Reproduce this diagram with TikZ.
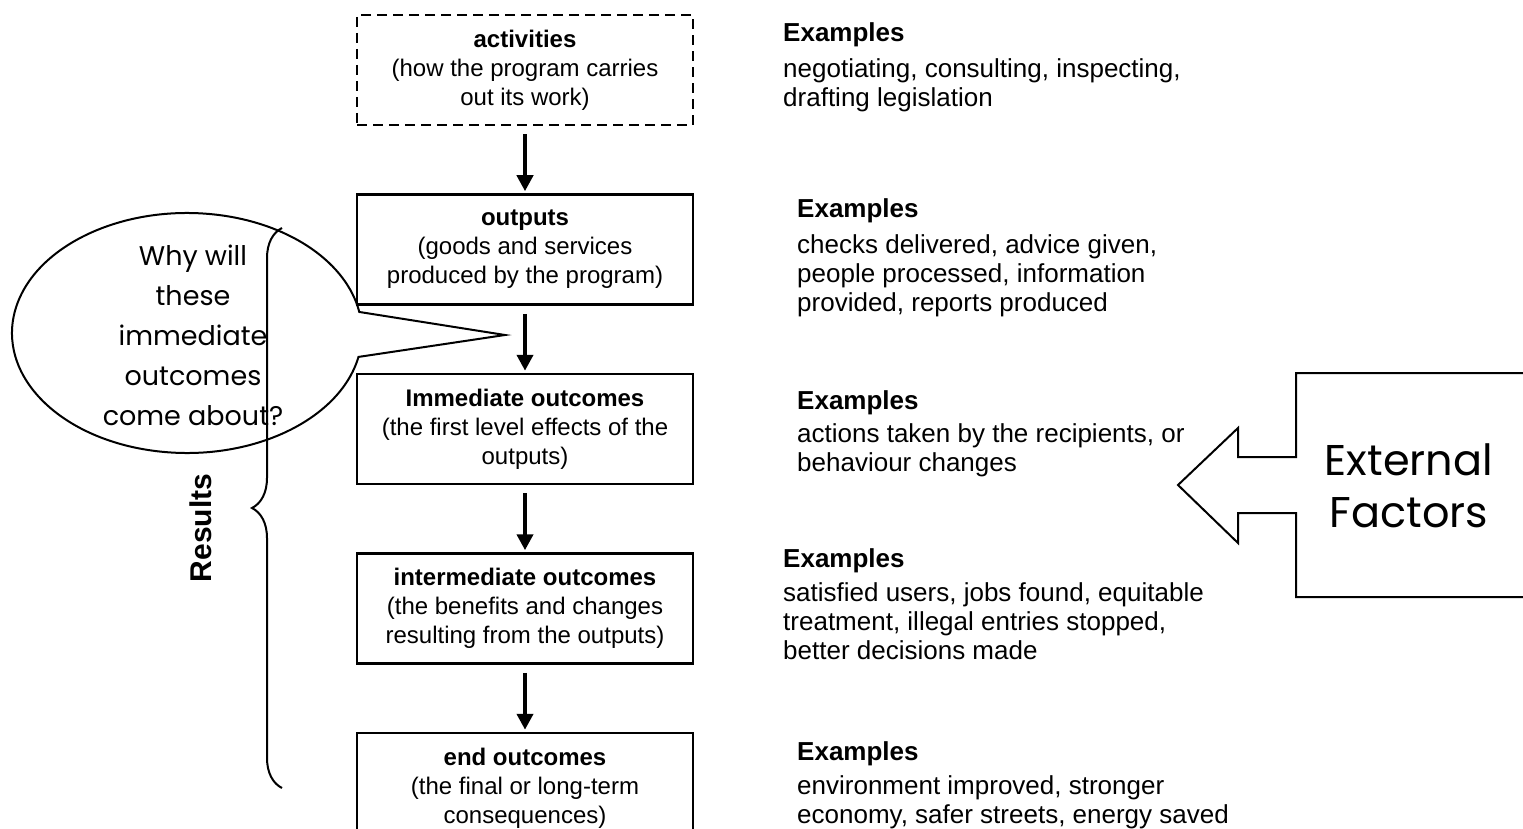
\documentclass[tikz,border=0pt]{standalone}
\usepackage{fontspec}
\setmainfont{Liberation Sans}
\newfontfamily\comicfont{Poppins}
\usetikzlibrary{positioning,arrows.meta,decorations.pathreplacing}

\tikzstyle{block} = [rectangle, draw, line width=2.5pt, minimum width=336pt, minimum height=110pt, align=center, font=\fontsize{24}{29}\selectfont]
\tikzstyle{arrow} = [draw, line width=4.5pt, -{Triangle[length=16pt,width=16pt]}, shorten <=8pt, shorten >=2pt]
\tikzstyle{examples} = [anchor=north west, inner sep=0pt, align=left, font=\fontsize{26}{29}\selectfont]
\tikzstyle{line} = [draw, line width=2pt]

\begin{document}
\begin{tikzpicture}[x=1pt, y=-1pt, node distance=67pt]
    \useasboundingbox (0,0) rectangle (1523,829);
    \clip (0,0) rectangle (1523,829);

    % boxes
    \node[block, dash pattern=on 10pt off 6pt] (activities) at (525,70) {\textbf{activities}\\(how the program carries\\out its work)};
    \node[block, below=of activities] (outputs) {\textbf{outputs}\\(goods and services\\produced by the program)};
    \node[block, below=of outputs] (immediate) {\textbf{Immediate outcomes}\\(the first level effects of the\\outputs)};
    \node[block, below=of immediate] (intermediate) {\textbf{intermediate outcomes}\\(the benefits and changes\\resulting from the outputs)};
    \node[block, below=of intermediate] (endout) {\textbf{end outcomes}\\(the final or long-term\\consequences)};

    % arrows
    \draw [arrow] (activities) -- (outputs);
    \draw [arrow] (outputs) -- (immediate);
    \draw [arrow] (immediate) -- (intermediate);
    \draw [arrow] (intermediate) -- (endout);

    % examples
    \node[examples] (ex1) at (783,22) {\textbf{Examples}\\[7pt]negotiating, consulting, inspecting,\\drafting legislation};
    \node[examples] (ex2) at (797,198) {\textbf{Examples}\\[7pt]checks delivered, advice given,\\people processed, information\\provided, reports produced};
    \node[examples] (ex3) at (797,390) {\textbf{Examples}\\[4pt]actions taken by the recipients, or\\behaviour changes};
    \node[examples] (ex4) at (783,548) {\textbf{Examples}\\[5pt]satisfied users, jobs found, equitable\\treatment, illegal entries stopped,\\better decisions made};
    \node[examples] (ex5) at (797,741) {\textbf{Examples}\\[5pt]environment improved, stronger\\economy, safer streets, energy saved};

    % callout
    \node[font=\comicfont\fontsize{27}{40}\selectfont, align=center] (why) at (193,335) {Why will\\these\\immediate\\outcomes\\come about?};
    \coordinate (ellc) at (187,333);
    \coordinate (tip) at (505,335);
    \draw [line] (ellc) ++(11.5:175 and 120) arc[start angle=11.5, end angle=349.9, x radius=175, y radius=120] -- (tip) -- cycle;

    % results brace
    \coordinate (bracebot) at (282,788);
    \coordinate (bracetop) at (282,228);
    \draw [line, decorate, decoration={brace, amplitude=30pt}] (bracebot) -- (bracetop);
    \node[rotate=90, font=\bfseries\fontsize{30}{36}\selectfont] (results) at (201,528) {Results};

    % external factors
    \coordinate (exttip) at (1178,485);
    \draw [line] (1296,373) -- (1296,457) -- (1238,457) -- (1238,428) -- (exttip) -- (1238,543) -- (1238,513) -- (1296,513) -- (1296,597) -- (1530,597) -- (1530,373) -- cycle;
    \node[font=\comicfont\fontsize{43}{52}\selectfont, align=center] (ext) at (1409,486) {External\\Factors};
\end{tikzpicture}
\end{document}
